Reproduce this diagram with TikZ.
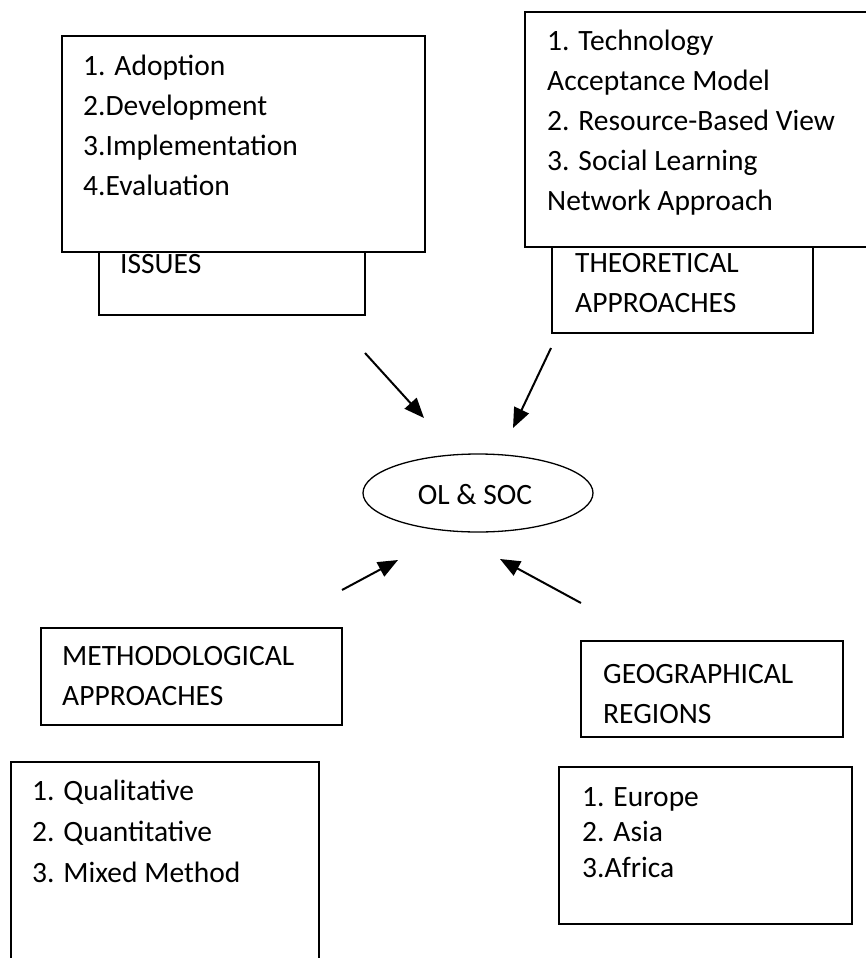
\documentclass[tikz,border=0pt]{standalone}
\usepackage{fontspec}
\setmainfont{Carlito}
\usetikzlibrary{arrows.meta,shapes.geometric}
\begin{document}
\begin{tikzpicture}[x=1pt,y=-1pt,
  box/.style={draw=black,line width=1.3pt,fill=white,inner sep=0pt,outer sep=0pt,anchor=north west},
  txt/.style={anchor=base west,inner sep=0pt,align=left,font=\fontsize{29.5}{40}\selectfont},
  arr/.style={line width=2pt,-{Triangle[length=20pt,width=16pt]}}]
\useasboundingbox (0,0) rectangle (865,958);
% issues (base anchor = last line's baseline)
\node[box,minimum width=266pt,minimum height=105pt] (issuesbox) at (99,210) {};
\node[txt] (issuestxt) at (120,273) {ISSUES};
\node[box,minimum width=363pt,minimum height=216pt] (issueslist) at (62,36) {};
\node[txt] (issueslisttxt) at (83,195) {1. Adoption\\2.Development\\3.Implementation\\4.Evaluation};
% theoretical
\node[box,minimum width=261pt,minimum height=113pt] (theobox) at (552,220) {};
\node[txt] (theotxt) at (575,312) {THEORETICAL\\APPROACHES};
\node[box,minimum width=345pt,minimum height=235pt] (theolist) at (525,12) {};
\node[txt] (theolisttxt) at (547,210) {1. Technology\\Acceptance Model\\2. Resource-Based View\\3. Social Learning\\Network Approach};
% centre
\node[draw=black,line width=1.3pt,ellipse,minimum width=230pt,minimum height=78pt,inner sep=0pt] (olsoc) at (478,493) {};
\node[anchor=base,inner sep=0pt,font=\fontsize{29.5}{40}\selectfont] (olsoctxt) at (475,504) {OL \& SOC};
% methodological
\node[box,minimum width=301pt,minimum height=97pt] (methbox) at (41,628) {};
\node[txt] (methtxt) at (62,705) {METHODOLOGICAL\\APPROACHES};
\node[box,minimum width=308pt,minimum height=210pt] (methlist) at (11,762) {};
\node[txt,font=\fontsize{29.5}{41}\selectfont] (methlisttxt) at (32,882) {1. Qualitative\\2. Quantitative\\3. Mixed Method};
% geographical
\node[box,minimum width=262pt,minimum height=96pt] (geobox) at (581,641) {};
\node[txt] (geotxt) at (603,723) {GEOGRAPHICAL\\REGIONS};
\node[box,minimum width=293pt,minimum height=157pt] (geolist) at (559,767) {};
\node[txt,font=\fontsize{29.5}{35.5}\selectfont] (geolisttxt) at (582,877) {1. Europe\\2. Asia\\3.Africa};
% arrows
\coordinate (a1s) at (365,353); \coordinate (a1e) at (424,418);
\coordinate (a2s) at (551,348); \coordinate (a2e) at (513,428);
\coordinate (a3s) at (342,590); \coordinate (a3e) at (398,560);
\coordinate (a4s) at (581,603); \coordinate (a4e) at (500,559);
\draw[arr] (a1s) -- (a1e);
\draw[arr] (a2s) -- (a2e);
\draw[arr] (a3s) -- (a3e);
\draw[arr] (a4s) -- (a4e);
\end{tikzpicture}
\end{document}
